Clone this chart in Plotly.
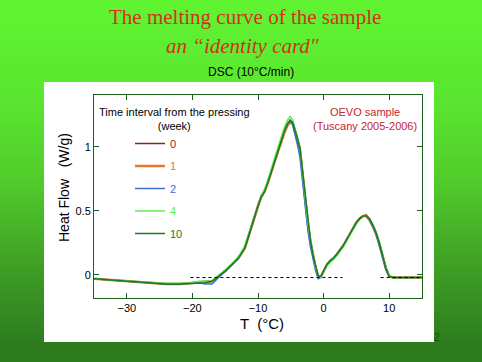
import plotly.graph_objects as go

# ---------------- data ----------------
temps = [-35, -32, -29, -26, -24, -22, -20, -19, -18, -17, -16, -15, -14, -13, -12, -11, -10, -9.5, -9, -8.5,
         -8, -7.5, -7, -6.5, -6, -5.5, -5.1, -4.7, -4.3, -4, -3.6, -3.2, -2.8, -2.4, -2, -1.6, -1.2, -0.8, -0.4, 0,
         0.5, 1, 1.5, 2, 3, 4, 5, 5.5, 6, 6.5, 7, 7.5, 8, 8.5, 9, 9.5, 10, 10.5, 11, 13, 15]

hf_w0 = [-0.03, -0.04, -0.05, -0.06, -0.07, -0.07, -0.06, -0.05, -0.05, -0.05, -0.01, 0.03, 0.08, 0.13, 0.21, 0.37, 0.54, 0.61, 0.66, 0.72,
         0.80, 0.88, 0.96, 1.03, 1.11, 1.17, 1.20, 1.18, 1.12, 1.06, 0.98, 0.79, 0.59, 0.41, 0.27, 0.15, 0.06, -0.01, -0.01, 0.03,
         0.08, 0.11, 0.13, 0.16, 0.23, 0.32, 0.41, 0.44, 0.46, 0.47, 0.44, 0.39, 0.33, 0.25, 0.15, 0.06, -0.01, -0.02, -0.02, -0.02, -0.02]
hf_w1 = [-0.03, -0.04, -0.05, -0.06, -0.07, -0.07, -0.065, -0.06, -0.055, -0.05, -0.01, 0.03, 0.08, 0.13, 0.21, 0.38, 0.54, 0.61, 0.65, 0.72,
         0.80, 0.89, 0.96, 1.03, 1.11, 1.17, 1.19, 1.18, 1.12, 1.06, 0.98, 0.78, 0.58, 0.40, 0.26, 0.14, 0.05, -0.02, -0.01, 0.03,
         0.08, 0.11, 0.13, 0.16, 0.23, 0.32, 0.41, 0.44, 0.46, 0.46, 0.43, 0.38, 0.32, 0.24, 0.14, 0.05, -0.01, -0.02, -0.02, -0.02, -0.02]
hf_w2 = [-0.03, -0.04, -0.05, -0.06, -0.07, -0.07, -0.065, -0.06, -0.07, -0.07, -0.02, 0.03, 0.08, 0.14, 0.22, 0.38, 0.55, 0.62, 0.66, 0.73,
         0.81, 0.89, 0.97, 1.05, 1.13, 1.18, 1.21, 1.17, 1.09, 1.02, 0.92, 0.72, 0.52, 0.35, 0.22, 0.11, 0.03, -0.03, -0.02, 0.03,
         0.08, 0.11, 0.13, 0.16, 0.23, 0.32, 0.41, 0.44, 0.46, 0.46, 0.43, 0.38, 0.32, 0.23, 0.13, 0.04, -0.01, -0.02, -0.02, -0.02, -0.02]
hf_w4 = [-0.03, -0.04, -0.05, -0.06, -0.065, -0.065, -0.06, -0.05, -0.05, -0.045, 0.0, 0.04, 0.09, 0.14, 0.23, 0.39, 0.55, 0.62, 0.67, 0.74,
         0.82, 0.91, 0.99, 1.07, 1.15, 1.21, 1.24, 1.21, 1.14, 1.08, 1.00, 0.80, 0.60, 0.41, 0.27, 0.15, 0.06, -0.01, -0.02, 0.02,
         0.07, 0.10, 0.12, 0.15, 0.22, 0.31, 0.40, 0.44, 0.46, 0.46, 0.44, 0.40, 0.34, 0.26, 0.16, 0.06, 0.0, -0.02, -0.02, -0.02, -0.02]
hf_w10 = [-0.03, -0.04, -0.05, -0.06, -0.07, -0.07, -0.065, -0.06, -0.06, -0.05, -0.01, 0.03, 0.08, 0.13, 0.21, 0.38, 0.54, 0.61, 0.65, 0.72,
          0.80, 0.89, 0.96, 1.04, 1.12, 1.18, 1.21, 1.19, 1.13, 1.07, 0.99, 0.80, 0.60, 0.42, 0.27, 0.15, 0.06, -0.01, -0.01, 0.03,
          0.08, 0.11, 0.13, 0.16, 0.23, 0.32, 0.41, 0.44, 0.46, 0.46, 0.44, 0.39, 0.33, 0.25, 0.15, 0.05, -0.01, -0.02, -0.02, -0.02, -0.02]

series_names = ["0", "1", "2", "4", "10"]
series_values = [hf_w0, hf_w1, hf_w2, hf_w4, hf_w10]
series_colors = ["#9b1c1c", "#e07a2c", "#3a6fe0", "#5cee4e", "#1e7a22"]
series_widths = [1.5, 2.5, 1.5, 1.5, 1.5]

baseline_1_x = [-20.3, 2.9]
baseline_2_x = [8.7, 15]
baseline_y = [-0.02, -0.02]

x_tickvals = [-30, -20, -10, 0, 10]
y_tickvals = [0, 0.5, 1]
y_ticktext = ["0", "0.5", "1"]

# ---------------- figure ----------------
W, H = 482, 362
ML, MR, MT, MB = 94, 60, 95, 64
PW, PH = W - ML - MR, H - MT - MB


def px_x(p):
    return (p - ML) / PW


def px_y(p):
    return (H - MB - p) / PH


fig = go.Figure()

for name, vals, col, w in zip(series_names, series_values, series_colors, series_widths):
    fig.add_trace(go.Scatter(
        x=temps, y=vals, mode="lines", line=dict(color=col, width=w),
        name=f"<span style='color:{col}'>{name}</span>", legendgroup=name,
    ))

for bx in (baseline_1_x, baseline_2_x):
    fig.add_trace(go.Scatter(x=bx, y=baseline_y, mode="lines",
                             line=dict(color="black", width=1, dash="dot"),
                             showlegend=False, hoverinfo="skip"))

# gradient background bands
stops = [(0, (96, 244, 50)), (100, (90, 230, 48)), (180, (82, 204, 44)),
         (260, (64, 162, 38)), (340, (47, 126, 31)), (362, (45, 121, 29))]


def col_at(y):
    for (y0, c0), (y1, c1) in zip(stops[:-1], stops[1:]):
        if y0 <= y <= y1:
            t = (y - y0) / (y1 - y0) if y1 > y0 else 0
            return "rgb(%d,%d,%d)" % tuple(round(a + (b - a) * t) for a, b in zip(c0, c1))
    return "rgb(%d,%d,%d)" % stops[-1][1]


shapes = []
step = 6
for y0 in range(0, H, step):
    y1 = min(H, y0 + step)
    shapes.append(dict(type="rect", xref="paper", yref="paper", layer="below",
                       x0=px_x(-2), x1=px_x(W + 2), y0=px_y(y1 + 0.5), y1=px_y(y0 - 0.5),
                       fillcolor=col_at((y0 + y1) / 2), line=dict(width=0)))
# bottom strip
shapes.append(dict(type="rect", xref="paper", yref="paper", layer="below",
                   x0=px_x(-2), x1=px_x(W + 2), y0=px_y(H + 2), y1=px_y(342),
                   fillcolor="#2e7b1e", line=dict(width=0)))
# white panel
shapes.append(dict(type="rect", xref="paper", yref="paper", layer="below",
                   x0=px_x(44), x1=px_x(434), y0=px_y(342), y1=px_y(82),
                   fillcolor="white", line=dict(width=0)))


def note(text, x, y, size, color, family="Liberation Sans", angle=0):
    return dict(text=text, x=px_x(x), y=px_y(y), xref="paper", yref="paper",
                xanchor="center", yanchor="middle", textangle=angle, showarrow=False,
                font=dict(family=family, size=size, color=color))


annotations = [
    note("The melting curve of the sample", 245, 17, 21, "#d2321a", "Liberation Serif"),
    note("<i>an “identity card\"</i>", 242, 46, 21, "#d2321a", "Liberation Serif"),
    note("DSC (10°C/min)", 251, 72, 12, "black"),
    note("Time interval from the pressing<br>(week)", 174, 119, 11, "black"),
    note("OEVO sample<br>(Tuscany 2005-2006)", 365, 119, 11, "#c0282a"),
    note("2", 437, 337, 10, "#1d4d14"),
    note("Heat Flow   (W/g)", 64, 188, 14, "black", angle=-90),
    note("T  (°C)", 262, 323, 15, "black"),
]

axis_col = "#1d5e1d"
fig.update_layout(
    width=W, height=H,
    margin=dict(l=ML, r=MR, t=MT, b=MB, autoexpand=False),
    paper_bgcolor="#5ae630", plot_bgcolor="white",
    shapes=shapes, annotations=annotations,
    showlegend=True,
    legend=dict(x=px_x(130), y=px_y(129), xanchor="left", yanchor="top",
                bgcolor="rgba(0,0,0,0)", traceorder="grouped", tracegroupgap=3.5,
                font=dict(family="Liberation Sans", size=11), itemclick=False),
    font=dict(family="Liberation Sans", color="black"),
    xaxis=dict(range=[-35, 15], tickvals=x_tickvals, ticks="inside", ticklen=5, tickcolor=axis_col,
               showline=True, linecolor=axis_col, linewidth=1, mirror="ticks", showgrid=False,
               zeroline=False, tickfont=dict(size=11, color="black"), automargin=False),
    yaxis=dict(range=[-0.18, 1.406], tickvals=y_tickvals, ticktext=y_ticktext, ticks="inside", ticklen=5,
               tickcolor=axis_col, showline=True, linecolor=axis_col, linewidth=1, mirror="ticks",
               showgrid=False, zeroline=False, tickfont=dict(size=11, color="black"), automargin=False),
)

fig.write_html("out.html", config={"displayModeBar": False},
               post_script="document.body.style.margin='0';document.body.style.padding='0';")
